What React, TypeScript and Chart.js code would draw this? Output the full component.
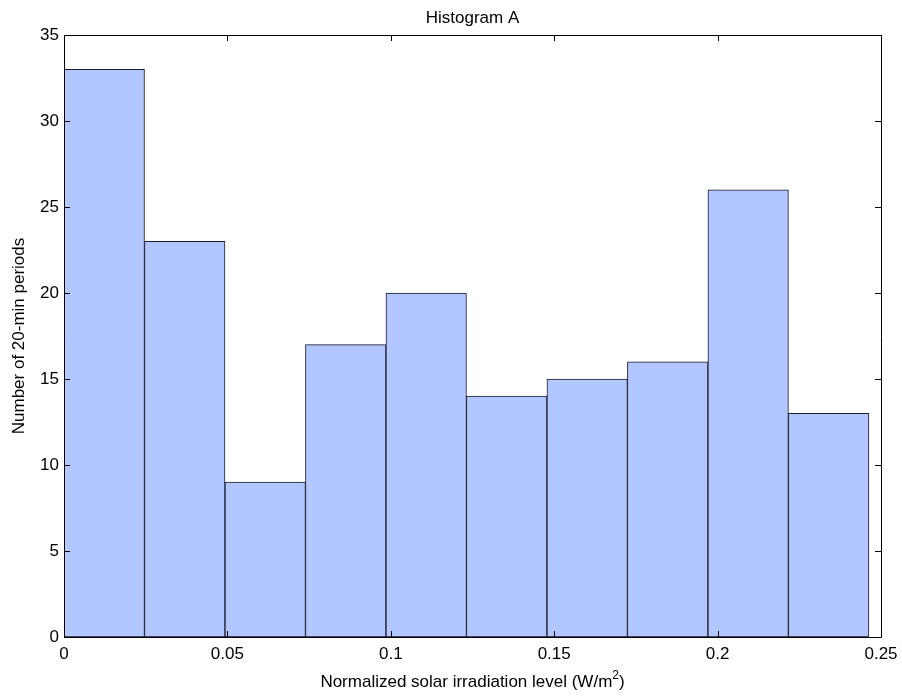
import React, { useEffect, useRef } from "react";
import { Chart, registerables } from "chart.js";

Chart.register(...registerables);

// Histogram bins (left edges) and counts
const binWidth = 0.02463;
const binStarts = [0, 0.02463, 0.04926, 0.07389, 0.09852, 0.12315, 0.14778, 0.17241, 0.19704, 0.22167];
const counts = [33, 23, 9, 17, 20, 14, 15, 16, 26, 13];
const xTicks = [0, 0.05, 0.1, 0.15, 0.2, 0.25];
const yTicks = [0, 5, 10, 15, 20, 25, 30, 35];

const FONT = "'Liberation Sans', Arial, sans-serif";
const FS = 17;

const framePlugin = {
  id: "frame",
  afterDatasetsDraw(chart: any) {
    const { ctx, chartArea, scales } = chart;
    const { left, right, top, bottom } = chartArea;
    ctx.save();
    ctx.strokeStyle = "#000";
    ctx.lineWidth = 1;
    ctx.beginPath();
    ctx.rect(Math.round(left) + 0.5, Math.round(top) + 0.5, Math.round(right - left), Math.round(bottom - top));
    ctx.stroke();
    const tl = 6;
    ctx.beginPath();
    for (const v of xTicks) {
      const px = Math.round(scales.x.getPixelForValue(v)) + 0.5;
      ctx.moveTo(px, bottom);
      ctx.lineTo(px, bottom - tl);
      ctx.moveTo(px, top);
      ctx.lineTo(px, top + tl);
    }
    for (const v of yTicks) {
      const py = Math.round(scales.y.getPixelForValue(v)) + 0.5;
      ctx.moveTo(left, py);
      ctx.lineTo(left + tl, py);
      ctx.moveTo(right, py);
      ctx.lineTo(right - tl, py);
    }
    ctx.stroke();

    // Titles
    ctx.fillStyle = "#000";
    ctx.font = `${FS}px ${FONT}`;
    ctx.textAlign = "center";
    ctx.textBaseline = "alphabetic";
    ctx.fillText("Histogram A", (left + right) / 2, 23);

    // x axis title with superscript
    const main = "Normalized solar irradiation level (W/m";
    const sup = "2";
    const tail = ")";
    ctx.font = `${FS}px ${FONT}`;
    const wMain = ctx.measureText(main).width;
    const wTail = ctx.measureText(tail).width;
    ctx.font = `12px ${FONT}`;
    const wSup = ctx.measureText(sup).width;
    const total = wMain + wSup + wTail;
    const x0 = (left + right) / 2 - total / 2;
    const ty = 687;
    ctx.textAlign = "left";
    ctx.font = `${FS}px ${FONT}`;
    ctx.fillText(main, x0, ty);
    ctx.font = `12px ${FONT}`;
    ctx.fillText(sup, x0 + wMain, ty - 8);
    ctx.font = `${FS}px ${FONT}`;
    ctx.fillText(tail, x0 + wMain + wSup, ty);

    // y axis title
    ctx.save();
    ctx.translate(19, (top + bottom) / 2);
    ctx.rotate(-Math.PI / 2);
    ctx.textAlign = "center";
    ctx.textBaseline = "middle";
    ctx.fillText("Number of 20-min periods", 0, 0);
    ctx.restore();
    ctx.restore();
  },
};

export default function App() {
  const ref = useRef<HTMLCanvasElement>(null);

  useEffect(() => {
    const canvas = ref.current;
    if (!canvas) return;
    const chart = new Chart(canvas, {
      type: "bar",
      data: {
        datasets: [
          {
            data: binStarts.map((s, i) => ({ x: s + binWidth / 2, y: counts[i] })),
            backgroundColor: "#b2c6ff",
            borderColor: "#1a1a2a",
            borderWidth: 1,
            borderSkipped: false,
            barPercentage: 1,
            categoryPercentage: 1,
          },
        ],
      },
      options: {
        responsive: false,
        animation: false,
        events: [],
        layout: { padding: { top: 35, right: 21, left: 0, bottom: 0 } },
        plugins: {
          legend: { display: false },
          tooltip: { enabled: false },
          title: { display: false },
        },
        scales: {
          x: {
            type: "linear",
            min: 0,
            max: 0.25,
            offset: false,
            afterFit: (s: any) => {
              s.height = 59;
              s.paddingLeft = 0;
              s.paddingRight = 0;
            },
            afterBuildTicks: (s: any) => {
              s.ticks = xTicks.map((v) => ({ value: v }));
            },
            grid: { display: false, drawTicks: false },
            border: { display: false },
            ticks: {
              padding: 7,
              color: "#000",
              font: { family: FONT, size: FS },
              maxRotation: 0,
              callback: (v: any) => String(Number(v)),
            },
          },
          y: {
            type: "linear",
            min: 0,
            max: 35,
            afterFit: (s: any) => {
              s.width = 64;
              s.paddingTop = 0;
              s.paddingBottom = 0;
            },
            afterBuildTicks: (s: any) => {
              s.ticks = yTicks.map((v) => ({ value: v }));
            },
            grid: { display: false, drawTicks: false },
            border: { display: false },
            ticks: {
              padding: 5,
              color: "#000",
              font: { family: FONT, size: FS },
            },
          },
        },
      },
      plugins: [framePlugin],
    });
    return () => chart.destroy();
  }, []);

  return (
    <div style={{ position: "fixed", left: 0, top: 0, width: 902, height: 696, background: "#fff" }}>
      <canvas ref={ref} width={902} height={696} />
    </div>
  );
}
